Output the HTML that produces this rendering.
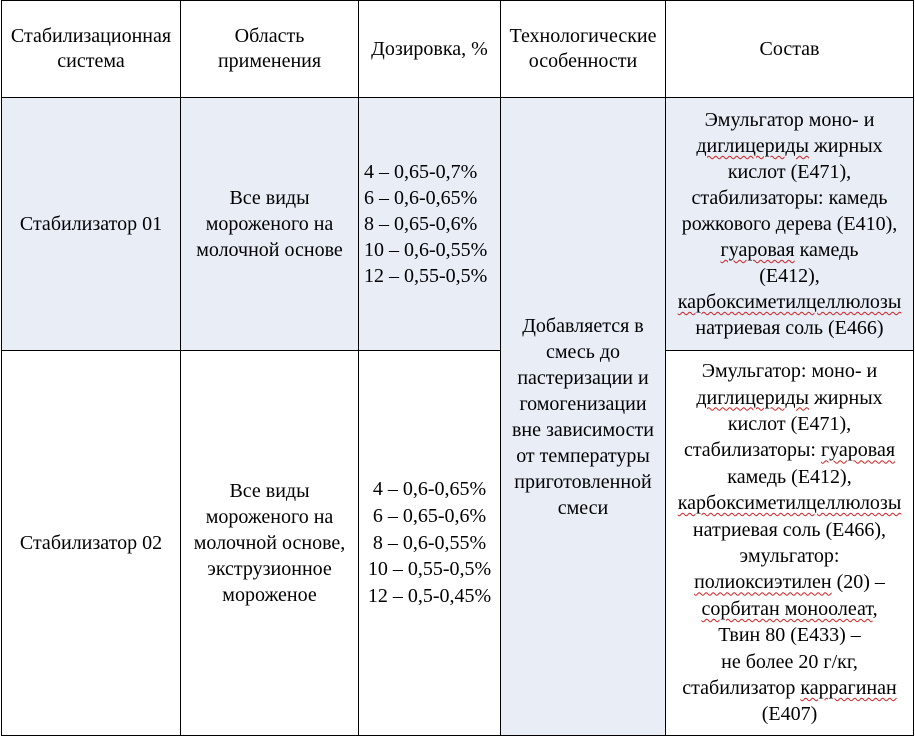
<!DOCTYPE html>
<html><head><meta charset="utf-8"><style>
body{margin:0;width:915px;height:736px;background:#fff;font-family:"Liberation Serif","DejaVu Serif",serif;font-size:16px;color:#000;position:relative;overflow:hidden}
.c{position:absolute;box-sizing:border-box;border:1px solid #000;display:flex;align-items:center;justify-content:center;text-align:center;line-height:26px;font-size:20px;white-space:nowrap}
.c>div{width:100%}
.b{background:#e8edf6}
.h{line-height:25px}
.w{text-decoration:underline wavy #d02020;text-decoration-thickness:1px;text-underline-offset:3px}
</style></head><body>
<div class="c h" style="left:1px;top:0;width:180px;height:98px"><div>Стабилизационная<br>система</div></div>
<div class="c h" style="left:180px;top:0;width:179px;height:98px"><div>Область<br>применения</div></div>
<div class="c h" style="left:358px;top:0;width:143px;height:98px"><div>Дозировка, %</div></div>
<div class="c h" style="left:500px;top:0;width:166px;height:98px"><div>Технологические<br>особенности</div></div>
<div class="c h" style="left:665px;top:0;width:249px;height:98px"><div>Состав</div></div>

<div class="c b" style="left:1px;top:97px;width:180px;height:254px"><div>Стабилизатор 01</div></div>
<div class="c b" style="left:180px;top:97px;width:179px;height:254px"><div>Все виды<br>мороженого на<br>молочной основе</div></div>
<div class="c b" style="left:358px;top:97px;width:143px;height:254px;text-align:left;padding-left:5px"><div>4 – 0,65-0,7%<br>6 – 0,6-0,65%<br>8 – 0,65-0,6%<br>10 – 0,6-0,55%<br>12 – 0,55-0,5%</div></div>
<div class="c b" style="left:500px;top:97px;width:166px;height:639px"><div>Добавляется в<br>смесь до<br>пастеризации и<br>гомогенизации<br>вне зависимости<br>от температуры<br>приготовленной<br>смеси</div></div>
<div class="c b" style="left:665px;top:97px;width:249px;height:254px"><div>Эмульгатор моно- и<br><span class="w">диглицериды</span> жирных<br>кислот (Е471),<br>стабилизаторы: камедь<br>рожкового дерева (Е410),<br><span class="w">гуаровая</span> камедь<br>(Е412),<br><span class="w">карбоксиметилцеллюлозы</span><br>натриевая соль (Е466)</div></div>

<div class="c" style="left:1px;top:350px;width:180px;height:386px"><div>Стабилизатор 02</div></div>
<div class="c" style="left:180px;top:350px;width:179px;height:386px"><div>Все виды<br>мороженого на<br>молочной основе,<br>экструзионное<br>мороженое</div></div>
<div class="c" style="left:358px;top:350px;width:143px;height:386px;line-height:26.7px"><div>4 – 0,6-0,65%<br>6 – 0,65-0,6%<br>8 – 0,6-0,55%<br>10 – 0,55-0,5%<br>12 – 0,5-0,45%</div></div>
<div class="c" style="left:665px;top:350px;width:249px;height:386px;line-height:26.4px"><div>Эмульгатор: моно- и<br><span class="w">диглицериды</span> жирных<br>кислот (Е471),<br>стабилизаторы: <span class="w">гуаровая</span><br>камедь (Е412),<br><span class="w">карбоксиметилцеллюлозы</span><br>натриевая соль (Е466),<br>эмульгатор:<br><span class="w">полиоксиэтилен</span> (20) –<br><span class="w">сорбитан моноолеат</span>,<br>Твин 80 (Е433) –<br>не более 20 г/кг,<br>стабилизатор <span class="w">каррагинан</span><br>(Е407)</div></div>
</body></html>
